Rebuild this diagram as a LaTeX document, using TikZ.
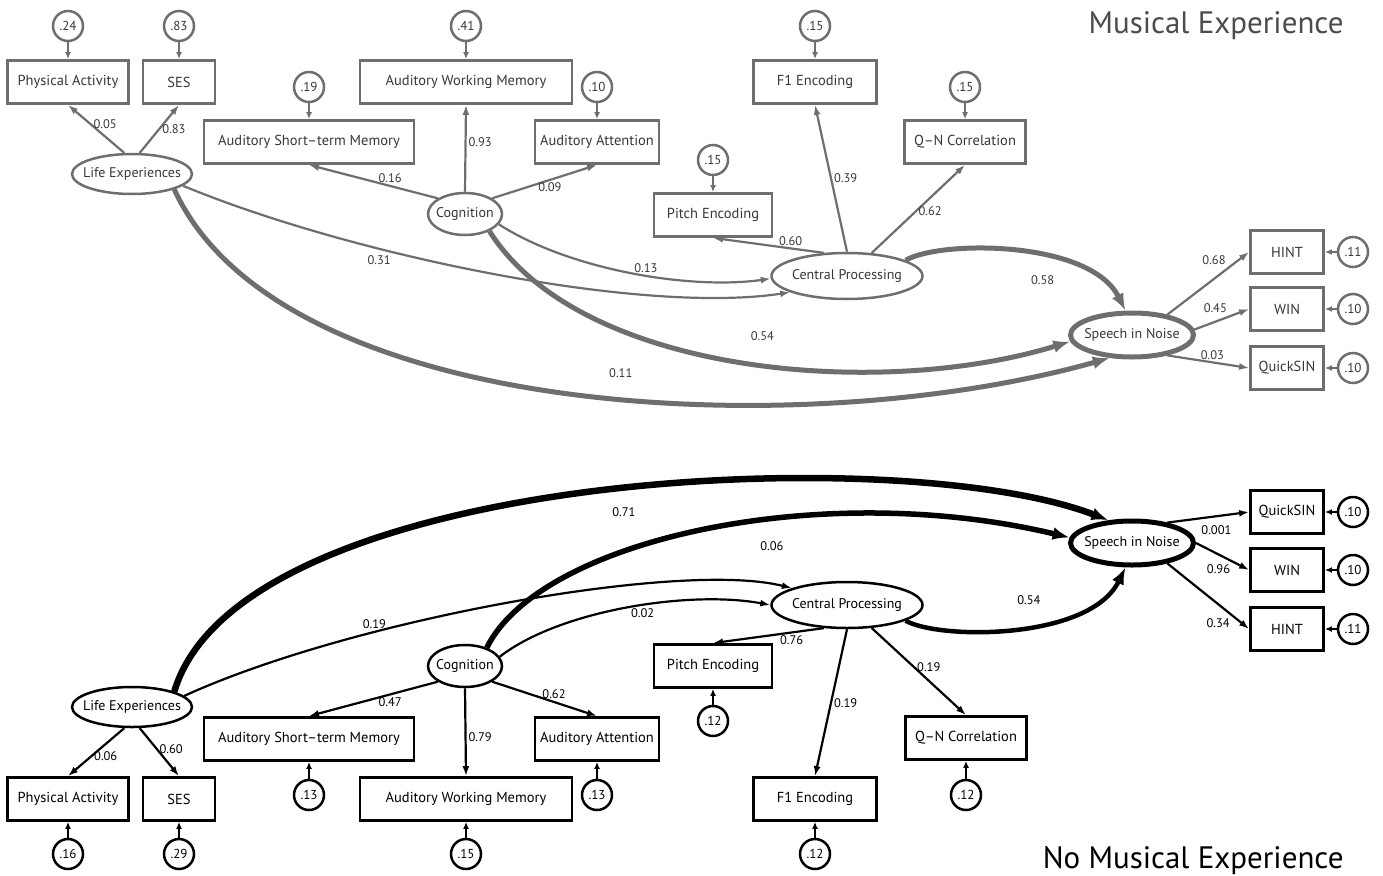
\documentclass[tikz,border=0pt]{standalone}
\usepackage{fontspec}
\setmainfont{PT Sans}
\usetikzlibrary{arrows.meta,shapes.geometric,positioning}
\definecolor{mgray}{RGB}{110,110,110}
\definecolor{tgray}{RGB}{55,55,55}

\tikzset{
  >={Latex[length=10pt,width=7pt]},
  obs/.style={rectangle, draw, line width=2.8pt, minimum height=43pt, inner sep=2pt, font=\fontsize{14.5}{16}\selectfont},
  lat/.style={ellipse, draw, line width=2.5pt, inner xsep=-11pt, inner ysep=0pt, font=\fontsize{14}{16}\selectfont},
  err/.style={circle, draw, line width=2.5pt, minimum size=30pt, inner sep=0pt, font=\fontsize{13}{14}\selectfont},
  coef/.style={font=\fontsize{12.5}{14}\selectfont, inner sep=2pt},
  link/.style={line width=2.2pt},
  heavy/.style={-{Latex[length=17pt,width=13pt]}},
  res/.style={line width=2.2pt, -{Latex[length=7pt,width=6pt]}},
}

\begin{document}
\begin{tikzpicture}[x=1pt,y=1pt]
  \useasboundingbox (0,0) rectangle (1383,-875);

  % musical experience
  \begin{scope}[color=mgray, text=tgray]
  \node[anchor=base east, font=\fontsize{31}{33}\selectfont, text=black!70] (title1) at (1347,-34) {Musical Experience};

  \node[lat, minimum width=120pt, minimum height=40pt] (le) at (132,-174) {Life Experiences};
  \node[lat, minimum width=74pt, minimum height=42pt] (cog) at (465,-214) {Cognition};
  \node[lat, minimum width=151pt, minimum height=46pt] (cp) at (847,-276) {Central Processing};
  \node[lat, line width=5pt, minimum width=123pt, minimum height=44pt] (sin) at (1132,-335) {Speech in Noise};

  \node[obs, minimum width=121pt] (pa) at (68,-82) {Physical Activity};
  \node[obs, minimum width=72pt] (ses) at (179,-82) {SES};
  \node[obs, minimum width=210pt] (stm) at (309,-142) {Auditory Short–term Memory};
  \node[obs, minimum width=212pt] (wm) at (466,-82) {Auditory Working Memory};
  \node[obs, minimum width=124pt] (att) at (597,-142) {Auditory Attention};
  \node[obs, minimum width=118pt] (pe) at (713,-215) {Pitch Encoding};
  \node[obs, minimum width=123pt] (f1) at (815,-82) {F1 Encoding};
  \node[obs, minimum width=121pt] (qn) at (965,-142) {Q–N Correlation};
  \node[obs, minimum width=73pt] (hint) at (1287,-252) {HINT};
  \node[obs, minimum width=73pt] (win) at (1287,-309) {WIN};
  \node[obs, minimum width=73pt] (qs) at (1287,-368) {QuickSIN};

  \node[err] (pa-e) at (68,-26) {.24};
  \node[err] (ses-e) at (179,-26) {.83};
  \node[err] (stm-e) at (309,-87) {.19};
  \node[err] (wm-e) at (466,-26) {.41};
  \node[err] (att-e) at (597,-87) {.10};
  \node[err] (pe-e) at (713,-160) {.15};
  \node[err] (f1-e) at (815,-26) {.15};
  \node[err] (qn-e) at (965,-87) {.15};
  \node[err] (hint-e) at (1353,-252) {.11};
  \node[err] (win-e) at (1353,-309) {.10};
  \node[err] (qs-e) at (1353,-368) {.10};

  \path[res]
  (pa-e) edge (pa) (ses-e) edge (ses) (stm-e) edge (stm) (wm-e) edge (wm)
  (att-e) edge (att) (pe-e) edge (pe) (f1-e) edge (f1) (qn-e) edge (qn)
  (hint-e) edge (hint) (win-e) edge (win) (qs-e) edge (qs);

  \path[->, link]
  (le.110) edge node[coef, pos=.6, right] {0.05} (pa.south)
  (le.70) edge node[coef, pos=.5, right] {0.83} (ses.south)
  (cog.150) edge node[coef, pos=.37, above] {0.16} (stm.south)
  (cog.north) edge node[coef, pos=.57, right] {0.93} (wm.south)
  (cog.30) edge node[coef, pos=.55, below] {0.09} (att.south)
  (cp.135) edge node[coef, pos=.3, above] {0.60} (pe.south)
  (cp.north) edge node[coef, pos=.5, right] {0.39} (f1.south)
  (cp.43) edge node[coef, pos=.47, right] {0.62} (qn.south)
  (sin.30) edge node[coef, pos=.75, above left] {0.68} (hint.west)
  (sin.5) edge node[coef, pos=.65, above left] {0.45} (win.west)
  (sin.-30) edge node[coef, pos=.55, above] {0.03} (qs.west);

  \draw[->, link] (cog.-17) .. controls (570,-270) and (690,-290) .. (cp.182) node[coef, pos=.55, above] {0.13};
  \draw[->, link] (le.-13) .. controls (350,-255) and (640,-315) .. (cp.196) node[coef, pos=.33, below=4pt] {0.31};
  \draw[heavy, line width=5pt] (cog.-35) .. controls (580,-375) and (880,-400) .. (sin.186) node[coef, pos=.53, above=20pt] {0.54};
  \draw[heavy, line width=5pt] (le.-20) .. controls (280,-420) and (800,-445) .. (sin.226) node[coef, pos=.55, above=17pt] {0.11};
  \draw[heavy, line width=5pt] (cp.15) .. controls (940,-240) and (1090,-240) .. (sin.105) node[coef, pos=.6, below=15pt] {0.58};
  \end{scope}

  % no musical experience
  \begin{scope}[color=black]
  \node[anchor=base east, font=\fontsize{31}{33}\selectfont] (title2) at (1347,-868) {No Musical Experience};

  \node[lat, minimum width=120pt, minimum height=40pt] (le2) at (132,-707) {Life Experiences};
  \node[lat, minimum width=74pt, minimum height=42pt] (cog2) at (465,-666) {Cognition};
  \node[lat, minimum width=151pt, minimum height=46pt] (cp2) at (847,-605) {Central Processing};
  \node[lat, line width=5pt, minimum width=123pt, minimum height=44pt] (sin2) at (1132,-543) {Speech in Noise};

  \node[obs, minimum width=121pt] (pa2) at (68,-799) {Physical Activity};
  \node[obs, minimum width=72pt] (ses2) at (179,-799) {SES};
  \node[obs, minimum width=210pt] (stm2) at (309,-739) {Auditory Short–term Memory};
  \node[obs, minimum width=212pt] (wm2) at (466,-799) {Auditory Working Memory};
  \node[obs, minimum width=124pt] (att2) at (597,-739) {Auditory Attention};
  \node[obs, minimum width=118pt] (pe2) at (713,-666) {Pitch Encoding};
  \node[obs, minimum width=123pt] (f12) at (815,-799) {F1 Encoding};
  \node[obs, minimum width=121pt] (qn2) at (966,-738) {Q–N Correlation};
  \node[obs, minimum width=73pt] (qs2) at (1287,-512) {QuickSIN};
  \node[obs, minimum width=73pt] (win2) at (1287,-570) {WIN};
  \node[obs, minimum width=73pt] (hint2) at (1287,-629) {HINT};

  \node[err] (pa2-e) at (68,-854) {.16};
  \node[err] (ses2-e) at (179,-854) {.29};
  \node[err] (stm2-e) at (309,-795) {.13};
  \node[err] (wm2-e) at (466,-854) {.15};
  \node[err] (att2-e) at (597,-795) {.13};
  \node[err] (pe2-e) at (713,-721) {.12};
  \node[err] (f12-e) at (815,-854) {.12};
  \node[err] (qn2-e) at (966,-795) {.12};
  \node[err] (qs2-e) at (1353,-512) {.10};
  \node[err] (win2-e) at (1353,-570) {.10};
  \node[err] (hint2-e) at (1353,-629) {.11};

  \path[res]
  (pa2-e) edge (pa2) (ses2-e) edge (ses2) (stm2-e) edge (stm2) (wm2-e) edge (wm2)
  (att2-e) edge (att2) (pe2-e) edge (pe2) (f12-e) edge (f12) (qn2-e) edge (qn2)
  (qs2-e) edge (qs2) (win2-e) edge (win2) (hint2-e) edge (hint2);

  \path[->, link]
  (le2.250) edge node[coef, pos=.59, right] {0.06} (pa2.north)
  (le2.290) edge node[coef, pos=.43, right] {0.60} (ses2.north)
  (cog2.210) edge node[coef, pos=.37, below] {0.47} (stm2.north)
  (cog2.south) edge node[coef, pos=.56, right] {0.79} (wm2.north)
  (cog2.330) edge node[coef, pos=.59, above] {0.62} (att2.north)
  (cp2.225) edge node[coef, pos=.29, below] {0.76} (pe2.north)
  (cp2.south) edge node[coef, pos=.5, right] {0.19} (f12.north)
  (cp2.317) edge node[coef, pos=.45, right] {0.19} (qn2.north)
  (sin2.30) edge node[coef, pos=.6, below=6pt] {0.001} (qs2.west)
  (sin2.east) edge node[coef, pos=.7, below left] {0.96} (win2.west)
  (sin2.-30) edge node[coef, pos=.8, below left] {0.34} (hint2.west);

  \draw[->, link] (le2.12) .. controls (350,-620) and (680,-560) .. (cp2.163) node[coef, pos=.31, above] {0.19};
  \draw[->, link] (cog2.15) .. controls (560,-610) and (690,-590) .. (cp2.west) node[coef, pos=.55, below] {0.02};
  \draw[heavy, line width=6.5pt] (le2.20) .. controls (240,-470) and (900,-440) .. (sin2.136) node[coef, pos=.53, below=14pt] {0.71};
  \draw[heavy, line width=5.5pt] (cog2.40) .. controls (540,-540) and (820,-478) .. (sin2.175) node[coef, pos=.6, below=17pt] {0.06};
  \draw[heavy, line width=4.5pt] (cp2.-15) .. controls (940,-640) and (1090,-640) .. (sin2.255) node[coef, pos=.55, above=17pt] {0.54};
  \end{scope}
\end{tikzpicture}
\end{document}
